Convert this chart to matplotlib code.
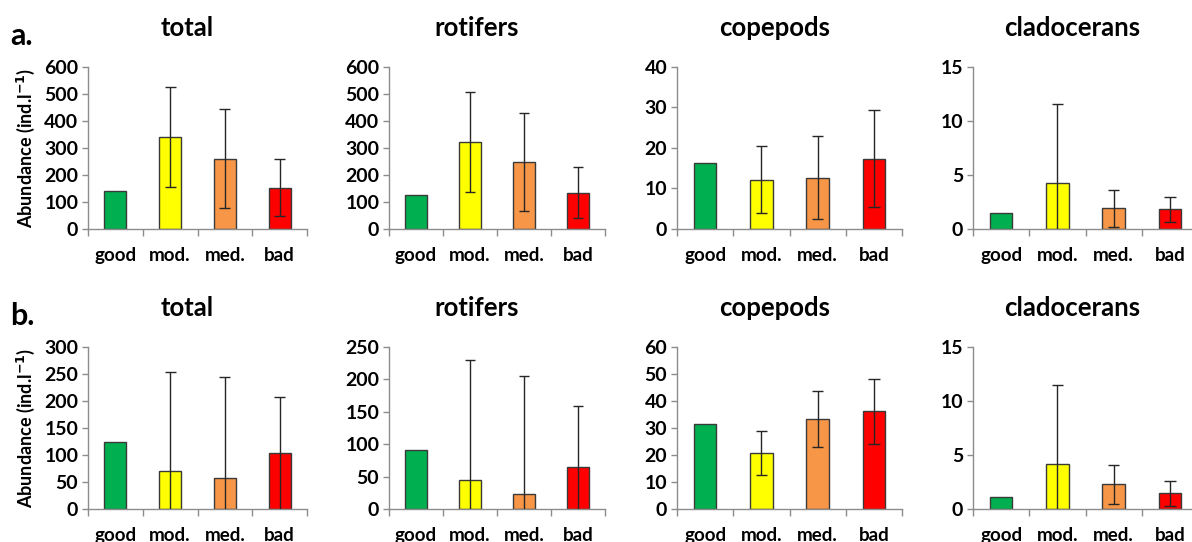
import numpy as np
import matplotlib
matplotlib.use("Agg")
import matplotlib.pyplot as plt

plt.rcParams['font.family'] = ['Lato', 'DejaVu Sans']

categories = ["good", "mod.", "med.", "bad"]
colors = ["#00B050", "#FFFF00", "#F79646", "#FF0000"]
groups = ["total", "rotifers", "copepods", "cladocerans"]

# row a.
a_total = [140, 340, 260, 152]
a_total_err = [0, 184, 185, 105]
a_rotifers = [123, 322, 247, 134]
a_rotifers_err = [0, 186, 180, 94]
a_copepods = [16.2, 12.1, 12.6, 17.3]
a_copepods_err = [0, 8.2, 10.3, 12.0]
a_cladocerans = [1.48, 4.23, 1.88, 1.79]
a_cladocerans_err = [0, 7.34, 1.72, 1.19]

# row b.
b_total = [125, 70, 58, 103]
b_total_err = [0, 184, 186, 104]
b_rotifers = [91, 45, 23, 65.5]
b_rotifers_err = [0, 184.5, 182, 93]
b_copepods = [31.4, 20.8, 33.3, 36.2]
b_copepods_err = [0, 8.2, 10.3, 12.0]
b_cladocerans = [1.08, 4.14, 2.29, 1.45]
b_cladocerans_err = [0, 7.37, 1.8, 1.15]

a_ylim = [600, 600, 40, 15]
a_yticks = [100, 100, 10, 5]
b_ylim = [300, 250, 60, 15]
b_yticks = [50, 50, 10, 5]

W, H = 1192, 542
fig = plt.figure(figsize=(W/100, H/100), dpi=100)

lefts = [88, 389, 677, 973]
widths = [219, 216, 225, 225]
title_x = [0.452, 0.407, 0.436, 0.44]
rows_top = [66.7, 347]
axh = 162

rows = [
    ([a_total, a_rotifers, a_copepods, a_cladocerans],
     [a_total_err, a_rotifers_err, a_copepods_err, a_cladocerans_err],
     a_ylim, a_yticks, "a."),
    ([b_total, b_rotifers, b_copepods, b_cladocerans],
     [b_total_err, b_rotifers_err, b_copepods_err, b_cladocerans_err],
     b_ylim, b_yticks, "b."),
]

spine_col = "#8c8c8c"
x = np.arange(len(categories))

for r, (vals, errs, ylims, ysteps, lab) in enumerate(rows):
    top = rows_top[r]
    for c in range(4):
        ax = fig.add_axes([lefts[c]/W, 1-(top+axh)/H, widths[c]/W, axh/H])
        v = np.array(vals[c], dtype=float)
        e = np.array(errs[c], dtype=float)
        ax.bar(x, v, width=0.4, color=colors, edgecolor="#3a3a3a", linewidth=1, zorder=2)
        lo = np.clip(v - e, 0, None)
        hi = v + e
        has = e > 0
        capw = 0.1
        ax.vlines(x[has], lo[has], hi[has], color="#262626", lw=1, zorder=3)
        ax.hlines(hi[has], x[has]-capw, x[has]+capw, color="#262626", lw=1, zorder=3)
        showlo = has & (v - e > 0)
        ax.hlines(lo[showlo], x[showlo]-capw, x[showlo]+capw, color="#262626", lw=1, zorder=3)

        ax.set_xlim(-0.5, 3.5)
        ax.set_ylim(0, ylims[c])
        ax.set_yticks(np.arange(0, ylims[c]+0.001, ysteps[c]))
        ax.set_xticks(x)
        ax.set_xticklabels(categories, fontsize=13.5, fontweight="bold")
        ax.set_xticks(np.arange(-0.5, 4, 1), minor=True)
        ax.tick_params(axis="x", which="major", length=0, pad=13)
        ax.tick_params(axis="x", which="minor", length=5, color=spine_col, width=1)
        ax.tick_params(axis="y", length=4, color=spine_col, width=1, pad=3, labelsize=14)
        for t in ax.get_yticklabels():
            t.set_fontweight("bold")
        for s in ["top", "right"]:
            ax.spines[s].set_visible(False)
        for s in ["left", "bottom"]:
            ax.spines[s].set_color(spine_col)
            ax.spines[s].set_linewidth(1)
        ax.text(title_x[c], 1 + 39/axh, groups[c], transform=ax.transAxes,
                ha="center", va="center", fontsize=18.5, fontweight="bold")
        if c == 0:
            ax.set_ylabel("Abundance (ind.l$^{\\mathbf{-1}}$)", fontsize=13, fontweight="bold", labelpad=5)
    fig.text(10/W, 1-(top-31)/H, lab, fontsize=22, fontweight="bold", ha="left", va="center")

fig.savefig("out.png", dpi=100)
